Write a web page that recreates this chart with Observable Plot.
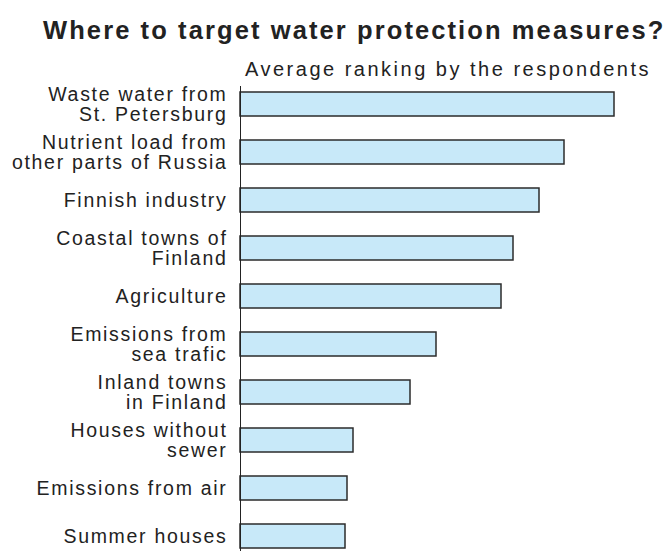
<!DOCTYPE html>
<html>
<head>
<meta charset="utf-8">
<script src="https://cdn.jsdelivr.net/npm/d3@7"></script>
<script src="https://cdn.jsdelivr.net/npm/@observablehq/plot@0.6"></script>
<style>
  html, body { margin: 0; padding: 0; background: #fff; overflow: hidden; width: 665px; height: 551px; }
  #head { position: relative; height: 80px; font-family: "Liberation Sans", Arial, sans-serif; color: #222; }
  #title { position: absolute; left: 43px; top: 15px; font-size: 25.5px; line-height: 30px; font-weight: bold; letter-spacing: 2.1px; white-space: nowrap; }
  #subtitle { position: absolute; left: 245px; top: 57px; font-size: 20px; line-height: 24px; letter-spacing: 2.5px; white-space: nowrap; }
  #chart text { letter-spacing: 1.7px; }
</style>
</head>
<body>
<div id="head">
  <div id="title">Where to target water protection measures?</div>
  <div id="subtitle">Average ranking by the respondents</div>
</div>
<div id="chart"></div>
<script>
const categories = [
  "Waste water from\nSt. Petersburg",
  "Nutrient load from\nother parts of Russia",
  "Finnish industry",
  "Coastal towns of\nFinland",
  "Agriculture",
  "Emissions from\nsea trafic",
  "Inland towns\nin Finland",
  "Houses without\nsewer",
  "Emissions from air",
  "Summer houses"
];
const values = [7.48, 6.48, 5.98, 5.46, 5.22, 3.92, 3.40, 2.26, 2.14, 2.10];

const data = categories.map((c, i) => ({category: c, value: values[i]}));

const chart = Plot.plot({
  width: 665,
  height: 471,
  marginLeft: 240,
  marginRight: 0,
  marginTop: 6,
  marginBottom: 0,
  style: {fontFamily: "Liberation Sans, Arial, sans-serif", background: "#fff"},
  x: {domain: [0, 8.5], axis: null},
  y: {domain: categories, range: [-5, 484], paddingInner: 0.5, paddingOuter: 0.25, axis: null},
  marks: [
    Plot.barX(data, {x: "value", y: "category", fill: "#c8e9f9", stroke: "#2b2b2b", strokeWidth: 1.5}),
    Plot.ruleX([0], {stroke: "#222", strokeWidth: 1}),
    Plot.text(data, {
      x: 0, y: "category", text: "category",
      textAnchor: "end", dx: -13, fontSize: 19.5, lineHeight: 1.05,
      fill: "#222"
    })
  ]
});
document.getElementById("chart").appendChild(chart);
</script>
</body>
</html>
